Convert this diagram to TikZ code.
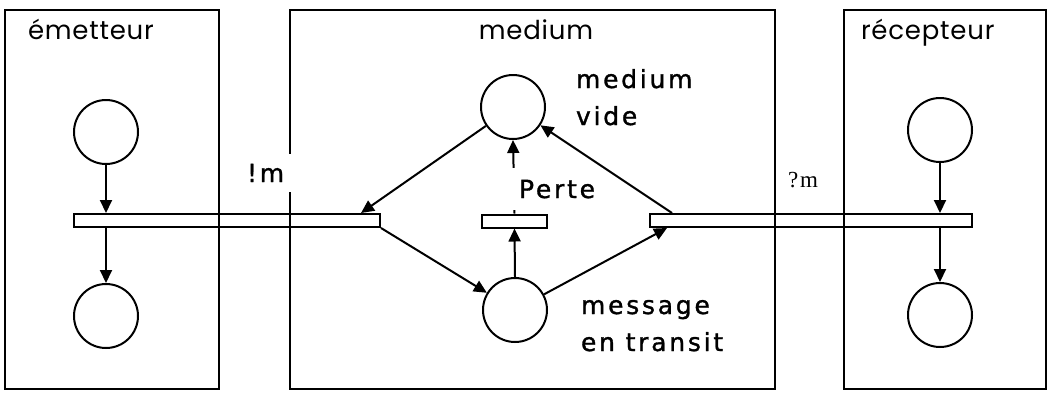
\documentclass[tikz,border=0pt]{standalone}
\usepackage{fontspec}
\usetikzlibrary{arrows.meta}
\newfontfamily\titlefont[LetterSpace=3]{Poppins}
\newfontfamily\lblfont[LetterSpace=11,FakeBold=1.2]{DejaVu Sans}
\newfontfamily\chanfont[LetterSpace=8]{Liberation Serif}

\begin{document}
\begin{tikzpicture}[x=1pt, y=-1pt, line width=2pt, >={Triangle[length=13pt,width=12pt]},
  zone/.style={draw, rectangle, anchor=north west, inner sep=0pt, minimum height=379pt},
  place/.style={draw, circle, minimum size=64pt, inner sep=0pt},
  trans/.style={draw, rectangle, minimum height=13pt, inner sep=0pt},
  title/.style={font=\titlefont\fontsize{26}{30}\selectfont, anchor=base west, inner sep=0pt},
  lbl/.style={font=\lblfont\fontsize{25}{37}\selectfont, align=left, anchor=base west, fill=white, inner sep=8pt}]
\useasboundingbox (0,0) rectangle (1047,392);
% zones
\node[zone, minimum width=214pt] (emet) at (4,9) {};
\node[zone, minimum width=485pt] (med) at (289,9) {};
\node[zone, minimum width=202pt] (recep) at (843,9) {};
\node[title] (temet) at (27,39) {émetteur};
\node[title, anchor=base] (tmed) at (536,39) {medium};
\node[title] (trecep) at (860,39) {récepteur};
% places
\node[place] (e1) at (106,132) {};
\node[place] (e2) at (106,316) {};
\node[place] (mv) at (513,107) {};
\node[place] (mt) at (515,310) {};
\node[place] (r1) at (940,130) {};
\node[place] (r2) at (940,315) {};
% transitions
\node[trans, minimum width=306pt] (tl) at (227,220.5) {};
\node[trans, minimum width=65pt] (tp) at (514.5,221) {};
\node[trans, minimum width=322pt] (tr) at (811,220.5) {};
% arcs
\draw[->] (e1) -- (e1 |- tl.north);
\draw[->] (e1 |- tl.south) -- (e2);
\draw[->] (r1) -- (r1 |- tr.north);
\draw[->] (r1 |- tr.south) -- (r2);
\draw[->] (mv) -- ([xshift=-20pt]tl.north east);
\draw[->] (tl.south east) -- (mt);
\draw[->] (mt.north) -- (tp.south);
\draw[->] (tp.north) -- (mv.south);
\draw[->] (mt) -- ([xshift=18pt]tr.south west);
\draw[->] ([xshift=23pt]tr.north west) -- (mv);
% labels on white, drawn last (base = last line)
\node[lbl] (lmv) at (567,125) {medium\\vide};
\node[lbl] (lmt) at (572,351) {message\\en transit};
\node[lbl, inner ysep=12pt] (lperte) at (510,198) {Perte};
\node[lbl, inner ysep=10pt] (lsend) at (238,182) {!m};
\node[font=\chanfont\fontsize{23}{26}\selectfont, anchor=base west, inner sep=0pt] (lrecv) at (787,187) {?m};
\end{tikzpicture}
\end{document}
